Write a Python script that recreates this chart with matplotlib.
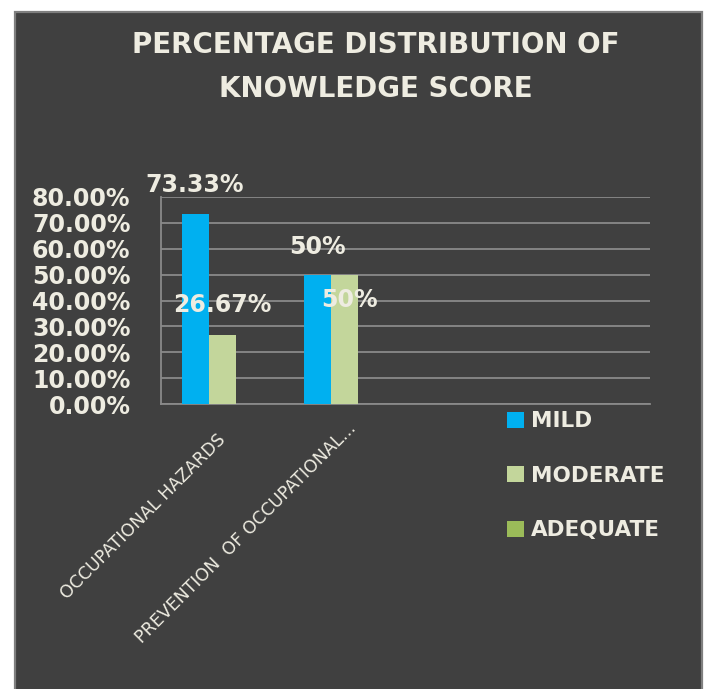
#!/usr/bin/env python3

import numpy as np
import matplotlib
matplotlib.use("Agg")
import matplotlib.pyplot as plt
from matplotlib.patches import Rectangle

# chart data
categories = ["OCCUPATIONAL HAZARDS", "PREVENTION  OF OCCUPATIONAL...", "", ""]
series_names = ["MILD", "MODERATE", "ADEQUATE"]
mild = [0.7333, 0.50, np.nan, np.nan]
moderate = [0.2667, 0.50, np.nan, np.nan]
adequate = [np.nan, np.nan, np.nan, np.nan]
mild_labels = ["73.33%", "50%"]
moderate_labels = ["26.67%", "50%"]
y_ticks = [0.0, 0.1, 0.2, 0.3, 0.4, 0.5, 0.6, 0.7, 0.8]

colors = ["#00B0F0", "#C3D69B", "#9BBB59"]
bg = "#404040"
fg = "#EEECE1"
grid_col = "#8a8a8a"

W, H = 704, 689
fig = plt.figure(figsize=(W / 100, H / 100), dpi=100, facecolor="white")

# dark chart panel
fig.patches.append(Rectangle((15 / W, -0.01), (702 - 15) / W, (H - 12) / H + 0.01,
                             transform=fig.transFigure, facecolor=bg,
                             edgecolor="#7f7f7f", linewidth=1.6, zorder=-5))

ax = fig.add_axes([161 / W, (H - 404) / H, (650 - 161) / W, (404 - 197) / H])
ax.set_facecolor("none")

x = np.arange(len(categories))
bw = 0.221
for i, (vals, col) in enumerate(zip([mild, moderate, adequate], colors)):
    ax.bar(x + (i - 1) * bw, vals, width=bw, color=col, linewidth=0, zorder=3)

ax.set_xlim(-0.5, len(categories) - 0.5)
ax.set_ylim(0, 0.8)
ax.set_yticks(y_ticks)
ax.set_yticklabels([f"{v * 100:.2f}%" for v in y_ticks])
ax.tick_params(axis="y", length=0, pad=22, labelsize=17, labelcolor=fg)
for lab in ax.get_yticklabels():
    lab.set_fontweight("bold")
ax.set_xticks([])

ax.grid(True, axis="y", color=grid_col, linewidth=1.3, zorder=1)
ax.set_axisbelow(True)
for s in ["top", "right"]:
    ax.spines[s].set_visible(False)
for s in ["left", "bottom"]:
    ax.spines[s].set_color(grid_col)
    ax.spines[s].set_linewidth(1.3)

# data labels (pixel offsets from bar tops, as placed in the original)
lab_kw = dict(textcoords="offset pixels", ha="center", va="center",
              fontsize=17, fontweight="bold", color=fg, zorder=5)
mild_off = [(0, 29), (0, 28)]
mod_off = [(0, 30), (5, -25)]
for i, txt in enumerate(mild_labels):
    ax.annotate(txt, xy=(x[i] - bw, mild[i]), xytext=mild_off[i], **lab_kw)
for i, txt in enumerate(moderate_labels):
    ax.annotate(txt, xy=(x[i], moderate[i]), xytext=mod_off[i], **lab_kw)

# rotated category labels
cat_off = [(1, -33), (9, -22)]
for i, txt in enumerate(categories):
    if not txt:
        continue
    ax.annotate(txt, xy=(x[i], 0), xytext=cat_off[i], textcoords="offset pixels",
                rotation=45, rotation_mode="anchor", ha="right", va="center",
                fontsize=12.5, color=fg, annotation_clip=False)

# title
fig.text(376 / W, 1 - 45 / H, "PERCENTAGE DISTRIBUTION OF", ha="center", va="center",
         fontsize=20, fontweight="bold", color=fg)
fig.text(376 / W, 1 - 89 / H, "KNOWLEDGE SCORE", ha="center", va="center",
         fontsize=20, fontweight="bold", color=fg)

# legend
handles = [Rectangle((0, 0), 1, 1, facecolor=c, linewidth=0) for c in colors]
leg = fig.legend(handles, series_names, loc="upper left",
                 bbox_to_anchor=(488 / W, 1 - 392 / H), frameon=False,
                 prop={"size": 15.5, "weight": "bold"}, labelcolor=fg,
                 handlelength=0.75, handleheight=0.75, handletextpad=0.35,
                 labelspacing=1.6)

fig.savefig("out.png", dpi=100, facecolor="white")
